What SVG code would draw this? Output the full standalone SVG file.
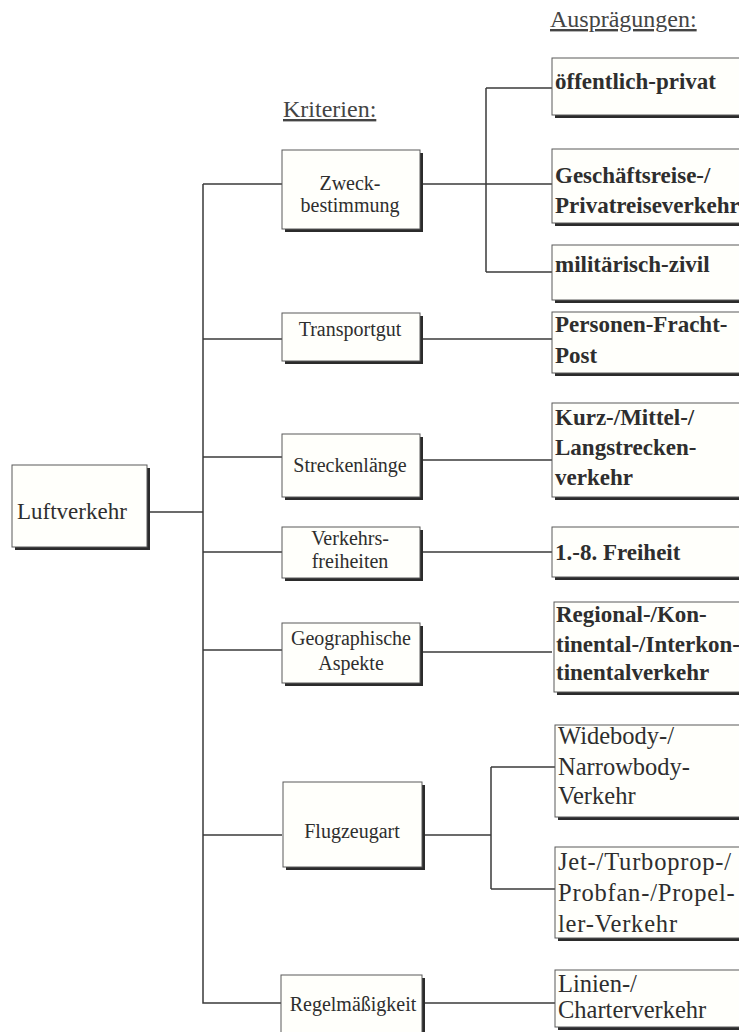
<svg xmlns="http://www.w3.org/2000/svg" width="739" height="1032" viewBox="0 0 739 1032">
<style>
.box{fill:#fffffb;stroke:#5a5a5a;stroke-width:1}
.sh{fill:#2b2b2b}
.conn{stroke:#3a3a3a;stroke-width:1.5;fill:none}
.t{font-family:"Liberation Serif","Times New Roman",serif;fill:#2e2e2e}
.mid{font-size:20px;text-anchor:middle}
.rb{font-size:23px;font-weight:bold}
.rr{font-size:24.5px}
.hdr{font-size:24px;text-decoration:underline;fill:#444}
</style>
<rect width="739" height="1032" fill="#ffffff"/>

<g id="headers">
<text class="t hdr" x="283" y="117">Kriterien:</text>
<text class="t hdr" x="550" y="27">Ausprägungen:</text>
</g>

<g id="connectors">
<path class="conn" d="M203 184 V1003 H282"/>
<path class="conn" d="M203 184 H282"/>
<path class="conn" d="M203 339 H282"/>
<path class="conn" d="M203 457 H282"/>
<path class="conn" d="M150 512 H203"/>
<path class="conn" d="M203 552 H282"/>
<path class="conn" d="M203 650 H282"/>
<path class="conn" d="M203 835 H282"/>
<path class="conn" d="M423 184 H552"/>
<path class="conn" d="M486 88 V272"/>
<path class="conn" d="M486 88 H552"/>
<path class="conn" d="M486 272 H552"/>
<path class="conn" d="M423 339 H552"/>
<path class="conn" d="M423 460 H552"/>
<path class="conn" d="M423 552 H552"/>
<path class="conn" d="M423 652 H552"/>
<path class="conn" d="M425 835 H491"/>
<path class="conn" d="M491 767 V889"/>
<path class="conn" d="M491 767 H555"/>
<path class="conn" d="M491 889 H555"/>
<path class="conn" d="M425 1003 H555"/>
</g>

<g id="n-luftverkehr">
<rect class="sh" x="15" y="468" width="135" height="82"/>
<rect class="box" x="12" y="465" width="135" height="82"/>
<text class="t" x="17" y="519" font-size="23">Luftverkehr</text>
</g>

<g id="n-zweck">
<rect class="sh" x="285" y="153" width="138" height="79"/>
<rect class="box" x="282" y="150" width="138" height="79"/>
<text class="t mid" x="350" y="190">Zweck-</text>
<text class="t mid" x="350" y="212">bestimmung</text>
</g>
<g id="n-transportgut">
<rect class="sh" x="285" y="316" width="138" height="48"/>
<rect class="box" x="282" y="313" width="138" height="48"/>
<text class="t mid" x="350" y="336">Transportgut</text>
</g>
<g id="n-strecke">
<rect class="sh" x="285" y="437" width="138" height="63"/>
<rect class="box" x="282" y="434" width="138" height="63"/>
<text class="t mid" x="350" y="472">Streckenlänge</text>
</g>
<g id="n-verkehrsfreiheiten">
<rect class="sh" x="285" y="530" width="138" height="51"/>
<rect class="box" x="282" y="527" width="138" height="51"/>
<text class="t mid" x="350" y="545">Verkehrs-</text>
<text class="t mid" x="350" y="568">freiheiten</text>
</g>
<g id="n-geo">
<rect class="sh" x="285" y="626" width="138" height="60"/>
<rect class="box" x="282" y="623" width="138" height="60"/>
<text class="t mid" x="351" y="645">Geographische</text>
<text class="t mid" x="351" y="670">Aspekte</text>
</g>
<g id="n-flugzeug">
<rect class="sh" x="286" y="785" width="139" height="85"/>
<rect class="box" x="283" y="782" width="139" height="85"/>
<text class="t mid" x="352" y="838">Flugzeugart</text>
</g>
<g id="n-regel">
<rect class="sh" x="285" y="978" width="140" height="70"/>
<rect class="box" x="281" y="975" width="141" height="70"/>
<text class="t mid" x="353" y="1011">Regelmäßigkeit</text>
</g>

<g id="n-oeffentlich">
<rect class="sh" x="555" y="61" width="200" height="57"/>
<rect class="box" x="552" y="58" width="200" height="57"/>
<text class="t rb" x="555" y="89">öffentlich-privat</text>
</g>
<g id="n-geschaeft">
<rect class="sh" x="555" y="152" width="200" height="74"/>
<rect class="box" x="552" y="149" width="200" height="74"/>
<text class="t rb" x="555" y="183">Geschäftsreise-/</text>
<text class="t rb" x="555" y="213">Privatreiseverkehr</text>
</g>
<g id="n-militaer">
<rect class="sh" x="555" y="248" width="200" height="55"/>
<rect class="box" x="552" y="245" width="200" height="55"/>
<text class="t rb" x="555" y="272">militärisch-zivil</text>
</g>
<g id="n-personen">
<rect class="sh" x="555" y="315" width="200" height="61"/>
<rect class="box" x="552" y="312" width="200" height="61"/>
<text class="t rb" x="555" y="332">Personen-Fracht-</text>
<text class="t rb" x="555" y="363">Post</text>
</g>
<g id="n-kurz">
<rect class="sh" x="555" y="406" width="200" height="94"/>
<rect class="box" x="552" y="403" width="200" height="94"/>
<text class="t rb" x="555" y="425">Kurz-/Mittel-/</text>
<text class="t rb" x="555" y="455">Langstrecken-</text>
<text class="t rb" x="555" y="485">verkehr</text>
</g>
<g id="n-freiheit">
<rect class="sh" x="555" y="530" width="200" height="50"/>
<rect class="box" x="552" y="527" width="200" height="50"/>
<text class="t rb" x="555" y="560">1.-8. Freiheit</text>
</g>
<g id="n-regional">
<rect class="sh" x="557" y="605" width="200" height="90"/>
<rect class="box" x="554" y="602" width="200" height="90"/>
<text class="t rb" x="556" y="622">Regional-/Kon-</text>
<text class="t rb" x="556" y="652">tinental-/Interkon-</text>
<text class="t rb" x="556" y="680">tinentalverkehr</text>
</g>
<g id="n-widebody">
<rect class="sh" x="558" y="728" width="200" height="92"/>
<rect class="box" x="555" y="725" width="200" height="92"/>
<text class="t rr" x="558" y="744">Widebody-/</text>
<text class="t rr" x="558" y="775">Narrowbody-</text>
<text class="t rr" x="558" y="804">Verkehr</text>
</g>
<g id="n-jet">
<rect class="sh" x="558" y="850" width="200" height="91"/>
<rect class="box" x="555" y="847" width="200" height="91"/>
<text class="t rr" x="558" y="870" letter-spacing="0.8">Jet-/Turboprop-/</text>
<text class="t rr" x="558" y="901" letter-spacing="0.8">Probfan-/Propel-</text>
<text class="t rr" x="558" y="932" letter-spacing="0.8">ler-Verkehr</text>
</g>
<g id="n-linien">
<rect class="sh" x="558" y="973" width="200" height="57"/>
<rect class="box" x="555" y="970" width="200" height="57"/>
<text class="t rr" x="558" y="992">Linien-/</text>
<text class="t rr" x="558" y="1018">Charterverkehr</text>
</g>
</svg>
